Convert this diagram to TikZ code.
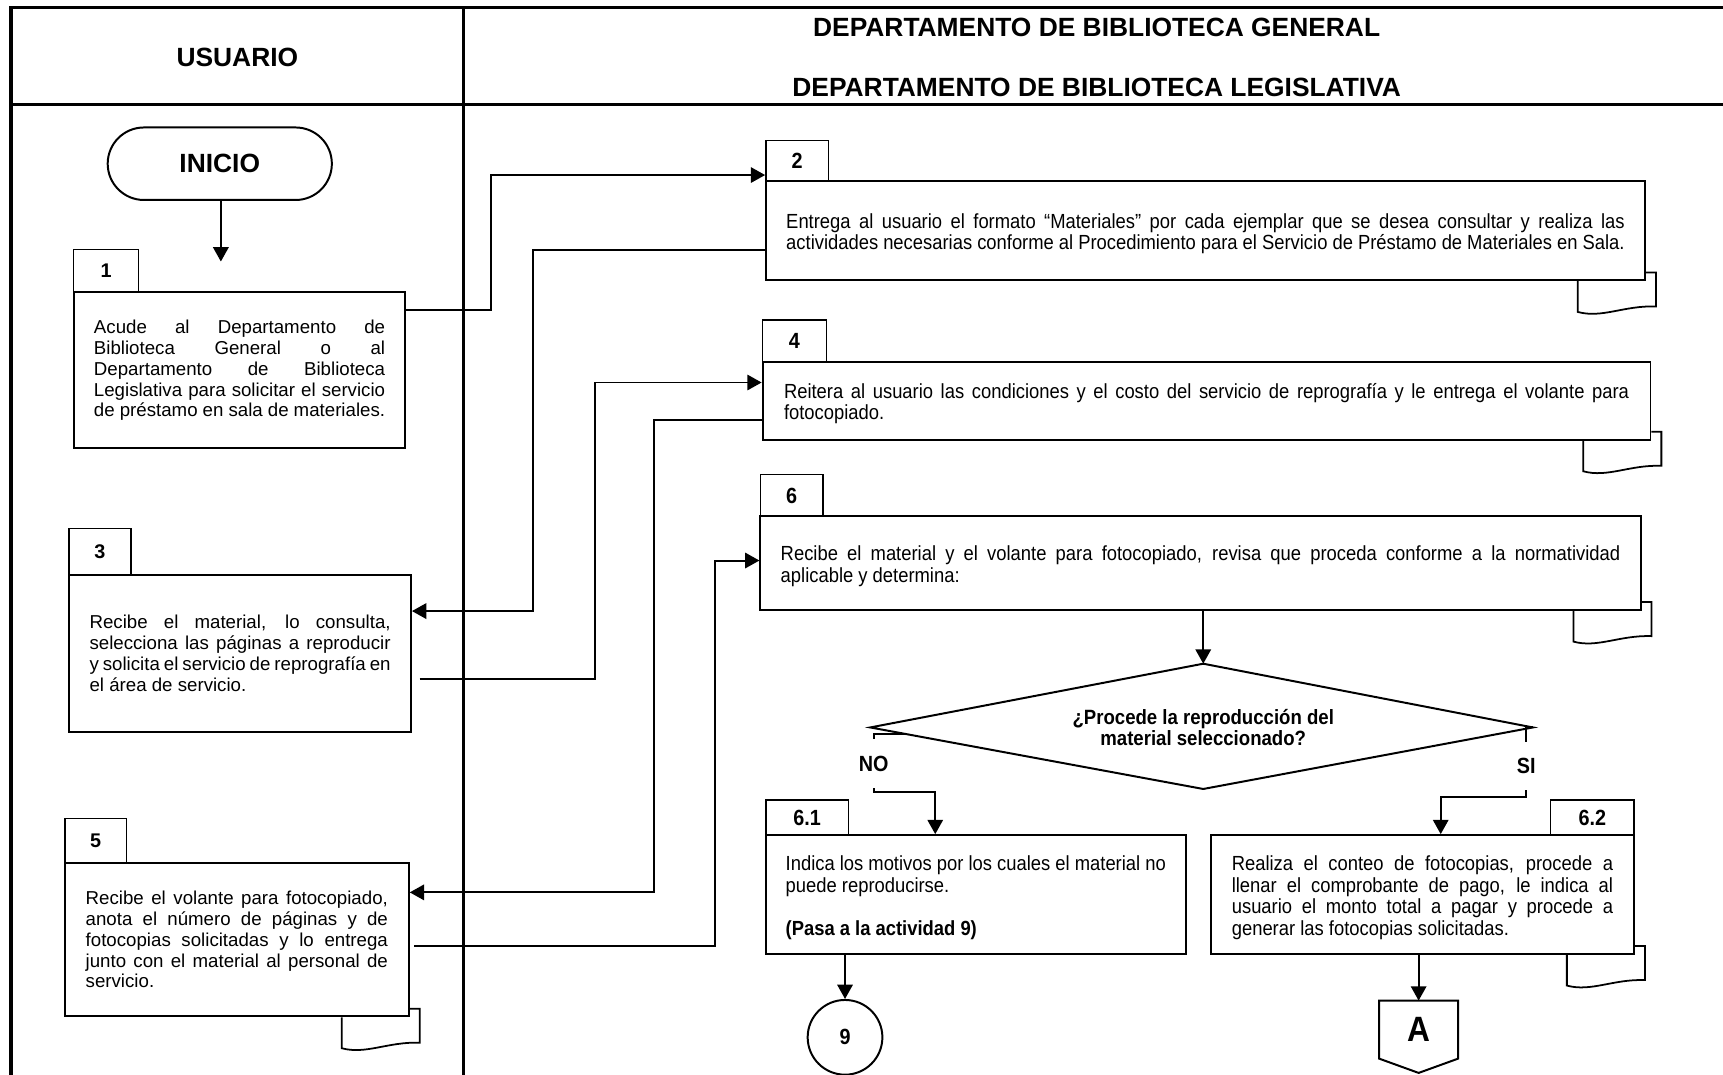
\documentclass[tikz,border=0pt]{standalone}
\usepackage{fontspec}
\setmainfont{Liberation Sans}
\newfontfamily\narrowfont[FakeStretch=0.9]{Liberation Sans}
\usetikzlibrary{arrows.meta,calc,backgrounds}
\newcommand\regtext{\fontsize{8.5}{9.5}\selectfont}
\newcommand\nartext{\narrowfont\fontsize{9.3}{9.8}\selectfont}
\newcommand\tabfont{\bfseries\fontsize{9}{10}\selectfont}
\newcommand\ntabfont{\narrowfont\bfseries\fontsize{10}{11}\selectfont}
\newcommand\docsh[1]{%
  \begin{pgfonlayer}{background}
  \draw[docline] ($(#1.south east)+(-62,0)$) -- ($(#1.south east)+(-62,28)$)
    .. controls ($(#1.south east)+(-40,34)$) and ($(#1.south east)+(-20,22)$) ..
    ($(#1.south east)+(9,23)$) -- ($(#1.south east)+(9,-8)$) -- ($(#1.south east)+(0,-8)$);
  \end{pgfonlayer}}
\tikzset{
  frame/.style={line width=1.4pt},
  boxline/.style={draw, line width=0.9pt, fill=white, inner sep=0pt},
  mainbox/.style={boxline, align=justify, font=\regtext},
  nbox/.style={boxline, align=justify, font=\nartext, execute at begin node={\rule{0pt}{9.5pt}}},
  tabbox/.style={draw, line width=0.7pt, fill=white, inner sep=0pt, font=\tabfont},
  ntabbox/.style={draw, line width=0.7pt, fill=white, inner sep=0pt, font=\ntabfont},
  conn/.style={line width=0.9pt},
  arr/.style={conn, -{Triangle[length=6.5pt,width=7pt]}},
  docline/.style={line width=0.8pt},
  lbl/.style={fill=white, inner xsep=1.5pt, inner ysep=7.5pt, font=\ntabfont},
  hdr/.style={font=\bfseries\fontsize{12}{14}\selectfont, inner sep=1pt}
}
\begin{document}
\begin{tikzpicture}[x=0.5pt,y=-0.5pt]
\begin{pgfonlayer}{background}
\fill[white] (0,0) rectangle (1568,978);
\end{pgfonlayer}
\useasboundingbox (0,0) rectangle (1568,978);
% frame
\draw[frame] (1590,6.5) -- (10,6.5) -- (10,1000);
\draw[frame] (10,95) -- (1590,95);
\draw[frame] (422,6.5) -- (422,1000);
% headers
\node[hdr] (husr) at (216,52) {USUARIO};
\node[hdr] (hgen) at (998,25) {DEPARTAMENTO DE BIBLIOTECA GENERAL};
\node[hdr] (hleg) at (998,80) {DEPARTAMENTO DE BIBLIOTECA LEGISLATIVA};
% start
\node[draw, line width=0.9pt, rounded corners=16.5pt, minimum width=102pt, minimum height=33pt,
  font=\bfseries\fontsize{12}{14}\selectfont] (inicio) at (200,149) {INICIO};
\coordinate (e1) at (201,238);
\draw[arr] (inicio.south -| e1) -- (e1);
% left lane boxes
\node[tabbox, minimum width=29.5pt, minimum height=19.5pt] (t1) at (96.5,246.5) {1};
\node[mainbox, minimum width=151pt, minimum height=71pt, text width=132.5pt] (b1) at (218,337)
 {Acude al Departamento de\linebreak Biblioteca General o al\linebreak Departamento de Biblioteca\linebreak Legislativa para solicitar el servicio\linebreak de préstamo en sala de materiales.};
\node[tabbox, minimum width=28pt, minimum height=21pt] (t3) at (91,502) {3};
\node[mainbox, minimum width=155.5pt, minimum height=71.5pt, text width=137pt] (b3) at (218.5,594.5)
 {Recibe el material, lo consulta,\linebreak selecciona las páginas a reproducir\linebreak y solicita el servicio de reprografía en\linebreak el área de servicio.};
\node[tabbox, minimum width=28pt, minimum height=20pt] (t5) at (87,765) {5};
\node[mainbox, minimum width=156.5pt, minimum height=70pt, text width=137.5pt] (b5) at (215.5,855)
 {Recibe el volante para fotocopiado,\linebreak anota el número de páginas y de\linebreak fotocopias solicitadas y lo entrega\linebreak junto con el material al personal de\linebreak servicio.};
% right lane boxes
\node[ntabbox, minimum width=28.5pt, minimum height=18.5pt] (t2) at (725.5,146.5) {2};
\node[nbox, minimum width=400pt, minimum height=45pt, text width=381.5pt] (b2) at (1097,210)
 {Entrega al usuario el formato “Materiales” por cada ejemplar que se desea consultar y realiza las\linebreak actividades necesarias conforme al Procedimiento para el Servicio de Préstamo de Materiales en Sala.};
\node[ntabbox, minimum width=29pt, minimum height=19pt] (t4) at (723,310) {4};
\node[nbox, minimum width=404pt, minimum height=35.5pt, text width=384.5pt] (b4) at (1098,364.5)
 {Reitera al usuario las condiciones y el costo del servicio de reprografía y le entrega el volante para\linebreak fotocopiado.};
\node[ntabbox, minimum width=28.5pt, minimum height=19pt] (t6) at (720.5,451) {6};
\node[nbox, minimum width=400.5pt, minimum height=42.5pt, text width=382pt] (b6) at (1092.5,512.5)
 {Recibe el material y el volante para fotocopiado, revisa que proceda conforme a la normatividad\linebreak aplicable y determina:};
\node[ntabbox, minimum width=37.5pt, minimum height=16pt] (t61) at (734.5,744) {6.1};
\node[nbox, minimum width=191pt, minimum height=54pt, text width=173pt] (b61) at (888,814)
 {Indica los motivos por los cuales el material no\linebreak puede reproducirse.\par\vspace{\baselineskip}\textbf{(Pasa a la actividad 9)}};
\node[ntabbox, minimum width=38pt, minimum height=16pt] (t62) at (1449,744) {6.2};
\node[nbox, minimum width=192.5pt, minimum height=54pt, text width=173.5pt] (b62) at (1294.5,814)
 {Realiza el conteo de fotocopias, procede a\linebreak llenar el comprobante de pago, le indica al\linebreak usuario el monto total a pagar y procede a\linebreak generar las fotocopias solicitadas.};
% document marks
\docsh{b2}
\docsh{b4}
\docsh{b6}
\docsh{b5}
\docsh{b62}
% decision
\coordinate (dN) at (1095,604);
\coordinate (dE) at (1395,662);
\coordinate (dS) at (1095,718);
\coordinate (dW) at (792,662);
\draw[line width=0.9pt] (dN) -- (dE) -- (dS) -- (dW) -- cycle;
\node[align=center, inner sep=0pt, font=\narrowfont\bfseries\fontsize{9.4}{9.6}\selectfont] (dec) at (1095,662)
 {¿Procede la reproducción del\\material seleccionado?};
% terminals
\node[draw, circle, line width=0.9pt, minimum size=34pt, inner sep=0pt, font=\ntabfont] (c9) at (769,944) {9};
\node[inner sep=0pt, minimum width=35.5pt, minimum height=26pt,
  font=\narrowfont\bfseries\fontsize{16}{18}\selectfont] (offA) at (1291,937) {A};
\draw[line width=0.9pt] (offA.north west) -- (offA.north east) -- (offA.south east)
  -- ($(offA.south)+(0,13)$) -- (offA.south west) -- cycle;
% connectors
\draw[arr] ($(b1.north east)+(0,17)$) -- ++(77,0) |- ($(t2.north west)+(0,32)$);
\draw[arr] ($(b2.north west)+(0,63)$) -- ++(-211,0) |- ($(b3.north east)+(0,34)$);
\draw[arr] ($(b3.north east)+(7,96)$) -- ++(160,0) |- ($(b4.north west)+(0,20)$);
\draw[arr] ($(b4.north west)+(0,54)$) -- ++(-98,0) |- ($(b5.north east)+(0,28)$);
\draw[arr] ($(b5.north east)+(4,77)$) -- ++(274,0) |- ($(b6.north west)+(0,41)$);
\draw[arr] (b6.south -| dN) -- (dN);
\coordinate (noA) at ($(dW)!0.11!(dS)$);
\coordinate (noB) at (795,721);
\draw[arr] (noA) -| (noB) -| ($(b61.north west)+(155,0)$);
\coordinate (siA) at (1389,662);
\coordinate (siB) at (1389,725);
\draw[arr] (dE) -- (siA) -- (siB) -| ($(b62.north west)+(210,0)$);
\node[lbl] (lno) at (795,695) {NO};
\node[lbl] (lsi) at (1389,697) {SI};
\draw[arr] (b61.south -| c9.north) -- (c9.north);
\draw[arr] (b62.south -| offA.north) -- (offA.north);
\end{tikzpicture}
\end{document}
